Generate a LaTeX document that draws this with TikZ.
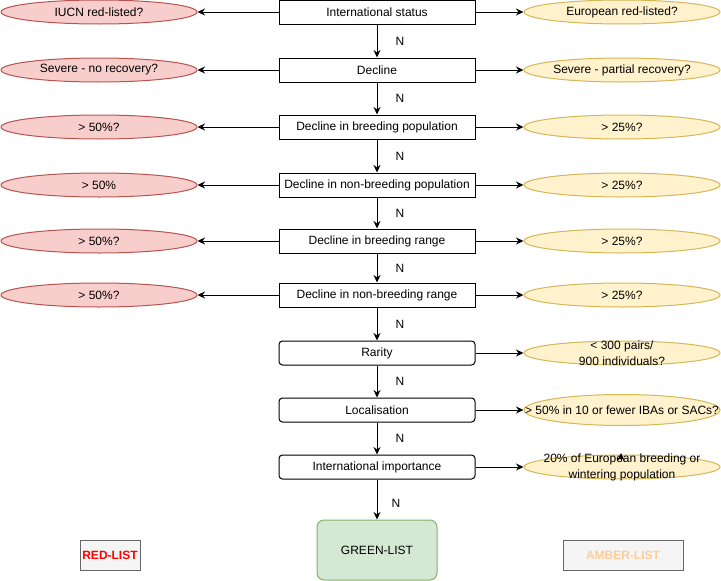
\documentclass[tikz,border=0pt]{standalone}
\usepackage{fontspec}
\setmainfont{Liberation Sans}
\usetikzlibrary{shapes.geometric,arrows.meta}
\definecolor{redfill}{HTML}{F8CECC}
\definecolor{redline}{HTML}{B85450}
\definecolor{ambfill}{HTML}{FFF2CC}
\definecolor{ambline}{HTML}{D6B656}
\definecolor{greenfill}{HTML}{D5E8D4}
\definecolor{greenline}{HTML}{82B366}
\definecolor{grayfill}{HTML}{F5F5F5}
\definecolor{grayline}{HTML}{666666}
\definecolor{ambtext}{HTML}{FFCC99}
\tikzset{
  every node/.style={font=\fontsize{12}{14}\selectfont},
  box/.style={draw=black, fill=white, line width=1pt, minimum width=196pt, minimum height=24pt, inner sep=0pt},
  rbox/.style={box, rounded corners=3.5pt},
  redell/.style={ellipse, draw=redline, fill=redfill, line width=1pt, minimum width=196pt, minimum height=24pt, inner sep=0pt},
  ambell/.style={ellipse, draw=ambline, fill=ambfill, line width=1pt, minimum width=196pt, minimum height=24pt, inner sep=0pt},
  lbl/.style={align=center, inner sep=0pt, font=\fontsize{12}{16}\selectfont},
  arr/.style={draw=black, line width=1pt, -{Stealth[length=7.5pt,width=7pt]}},
  nlab/.style={inner sep=0pt},
  legend/.style={draw=grayline, fill=grayfill, line width=1pt, minimum height=30pt, inner sep=0pt, font=\fontsize{12}{14}\selectfont\bfseries}
}
\begin{document}
\begin{tikzpicture}[x=1pt,y=-1pt]
\useasboundingbox (0,0) rectangle (721,581);
% central boxes
\node[box] (b1) at (377,12) {International status};
\node[box] (b2) at (377,70) {Decline};
\node[box] (b3) at (377,127) {Decline in breeding population};
\node[box] (b4) at (377,185) {Decline in non-breeding population};
\node[box] (b5) at (377,241) {Decline in breeding range};
\node[box] (b6) at (377,295) {Decline in non-breeding range};
\node[rbox] (b7) at (377,353) {Rarity};
\node[rbox] (b8) at (377,410) {Localisation};
\node[rbox] (b9) at (377,467) {International importance};
\node[draw=greenline, fill=greenfill, line width=1pt, rounded corners=7pt, minimum width=120pt, minimum height=60pt, inner sep=0pt] (g) at (377,550) {GREEN-LIST};
% red ellipses
\node[redell] (r1) at (99,12) {IUCN red-listed?};
\node[redell] (r2) at (99,70) {Severe - no recovery?};
\node[redell] (r3) at (99,127) {> 50\%?};
\node[redell] (r4) at (99,185) {> 50\%};
\node[redell] (r5) at (99,241) {> 50\%?};
\node[redell] (r6) at (99,295) {> 50\%?};
% amber ellipses
\node[ambell] (a1) at (622,12) {European red-listed?};
\node[ambell] (a2) at (622,70) {Severe - partial recovery?};
\node[ambell] (a3) at (622,127) {> 25\%?};
\node[ambell] (a4) at (622,185) {> 25\%?};
\node[ambell] (a5) at (622,241) {> 25\%?};
\node[ambell] (a6) at (622,295) {> 25\%?};
\node[ambell, label={[lbl]center:{< 300 pairs/\\900 individuals?}}] (a7) at (622,353) {};
\node[ambell, minimum height=31pt, label={[lbl]center:{> 50\% in 10 or fewer IBAs or SACs?}}] (a8) at (622,410) {};
\node[ambell, label={[lbl]center:{20\% of European breeding or\\wintering population}}] (a9) at (622,467) {};
% legend boxes
\node[legend, minimum width=60pt, text=red] (rl) at (110,555) {RED-LIST};
\node[legend, minimum width=120pt, text=ambtext] (al) at (623,555) {AMBER-LIST};
% side arrows
\foreach \i in {1,...,6}{
  \draw[arr] (b\i.west) -- (r\i.east);
}
\foreach \i in {1,...,9}{
  \draw[arr] (b\i.east) -- (a\i.west);
}
% vertical arrows
\foreach \i/\j in {1/2,2/3,3/4,4/5,5/6,6/7,7/8,8/9}{
  \draw[arr] (b\i.south) -- node[nlab, right=18pt, pos=0.5] {N} (b\j.north);
}
\draw[arr] (b9.south) -- node[nlab, right=14pt, pos=0.6] {N} (g.north);
% stray arrow head
\coordinate (s1) at (621,461);
\coordinate (s2) at (621,453);
\draw[arr] (s1) -- (s2);
\end{tikzpicture}
\end{document}
